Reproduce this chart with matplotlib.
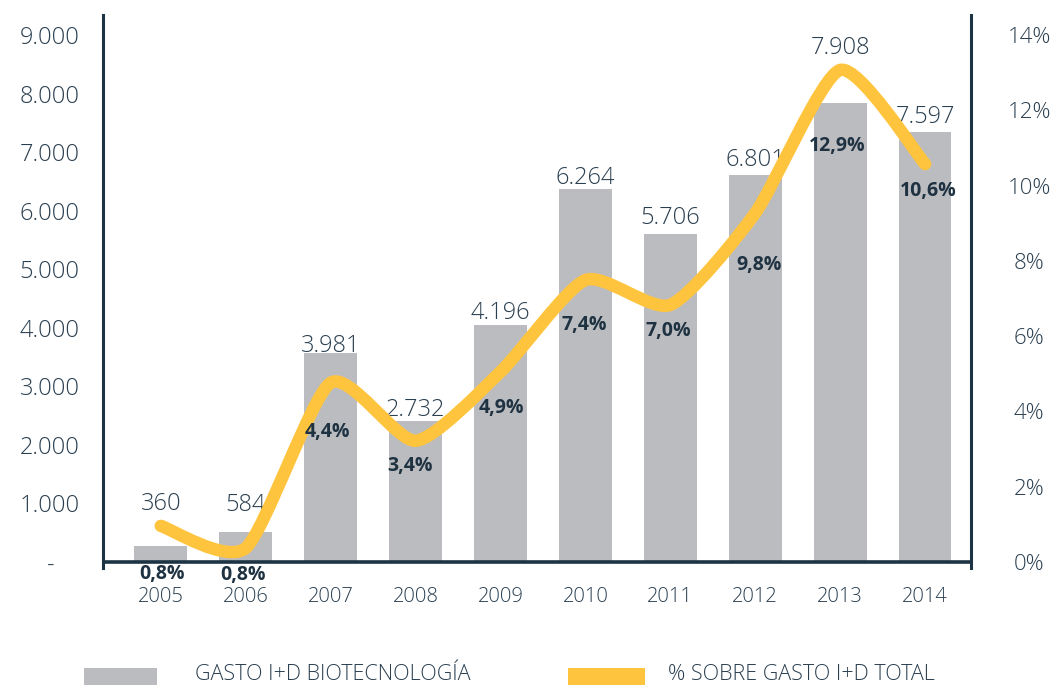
import matplotlib
matplotlib.use("Agg")
import matplotlib.pyplot as plt
from matplotlib.path import Path
from matplotlib.patches import PathPatch, Rectangle
import numpy as np

# ---- data ----
years = ["2005", "2006", "2007", "2008", "2009", "2010", "2011", "2012", "2013", "2014"]
gasto_bars = [275, 515, 3575, 2410, 4045, 6370, 5600, 6610, 7840, 7345]      # bar heights as drawn
gasto_labels = ["360", "584", "3.981", "2.732", "4.196", "6.264", "5.706", "6.801", "7.908", "7.597"]
pct_line = [0.96, 0.37, 4.76, 3.22, 5.05, 7.49, 6.83, 9.27, 13.07, 10.57]     # line as drawn (%)
pct_labels = ["0,8%", "0,8%", "4,4%", "3,4%", "4,9%", "7,4%", "7,0%", "9,8%", "12,9%", "10,6%"]
left_ticks = [0, 1000, 2000, 3000, 4000, 5000, 6000, 7000, 8000, 9000]
left_ticklabels = ["-    ", "1.000", "2.000", "3.000", "4.000", "5.000", "6.000", "7.000", "8.000", "9.000"]
right_ticks = [0, 2, 4, 6, 8, 10, 12, 14]
right_ticklabels = ["0%", "2%", "4%", "6%", "8%", "10%", "12%", "14%"]
legend_labels = ["GASTO I+D BIOTECNOLOGÍA", "% SOBRE GASTO I+D TOTAL"]

# ---- layout (pixels) ----
val_label_dy = [35.5, 21, 1, 4.5, 6.5, 4.5, 10.5, 8.5, 48.5, 8.5]
pct_label_dx = [1, -3, -3, -5, 1, -1, -2, 4, -3, 3]
pct_label_dy = [-53, -32, -54, -30, -41, -50, -31, -57, -81, -32]

NAVY = "#1D3444"
TEXT = "#2A3F50"
BOLD = "#1E3242"
YELLOW = "#FFC43D"
GRAY = "#BBBCC0"
FONT = "Open Sans"

plt.rcParams["font.family"] = [FONT, "DejaVu Sans"]

W, H = 1058, 686
fig = plt.figure(figsize=(W / 100, H / 100), dpi=100)
left_px, right_px, top_px, bot_px = 103, 971, 15, 568
ax = fig.add_axes([left_px / W, 1 - bot_px / H, (right_px - left_px) / W, (bot_px - top_px) / H])

x = np.arange(len(years))
ax.bar(x, gasto_bars, width=0.62, color=GRAY, zorder=2)
ax.set_xlim(-0.68, 9.54)
ax.set_ylim(-102, 9341)
ax.axhline(0, color=NAVY, lw=2.6, zorder=3)

for s in ["top", "bottom"]:
    ax.spines[s].set_visible(False)
ax.spines["left"].set_color(NAVY)
ax.spines["left"].set_linewidth(2.2)
ax.spines["right"].set_visible(False)

ax.set_yticks(left_ticks)
ax.set_yticklabels(left_ticklabels, fontsize=17, color=TEXT, fontweight="light")
ax.set_xticks(x)
ax.set_xticklabels(years, fontsize=14.5, color=TEXT, fontweight="light")
ax.tick_params(axis="y", length=0, pad=17)
ax.tick_params(axis="x", length=0, pad=14)

for i, (h, lab) in enumerate(zip(gasto_bars, gasto_labels)):
    ax.annotate(lab, (x[i], h), xytext=(0, val_label_dy[i]), textcoords="offset pixels",
                ha="center", va="baseline", fontsize=17, color=TEXT, fontweight="light", zorder=4)

ax2 = ax.twinx()
ax2.set_ylim(-0.159, 14.53)
for s in ["top", "bottom", "left"]:
    ax2.spines[s].set_visible(False)
ax2.spines["right"].set_color(NAVY)
ax2.spines["right"].set_linewidth(2.2)
ax2.set_yticks(right_ticks)
ax2.set_yticklabels(right_ticklabels, fontsize=16, color=TEXT, fontweight="light")
ax2.tick_params(axis="y", length=0, pad=42)
for t in ax2.get_yticklabels():
    t.set_horizontalalignment("center")

# smooth line through the points (tight Catmull-Rom as cubic Bezier)
TENSION = 1.0 / 9.0
P = np.column_stack([x.astype(float), np.array(pct_line, dtype=float)])
n = len(P)
verts = [tuple(P[0])]
codes = [Path.MOVETO]
for i in range(n - 1):
    p0 = P[i - 1] if i > 0 else P[i]
    p1 = P[i]
    p2 = P[i + 1]
    p3 = P[i + 2] if i + 2 < n else P[i + 1]
    c1 = p1 + (p2 - p0) * TENSION
    c2 = p2 - (p3 - p1) * TENSION
    verts += [tuple(c1), tuple(c2), tuple(p2)]
    codes += [Path.CURVE4] * 3
path = Path(verts, codes)
ax2.add_patch(PathPatch(path, facecolor="none", edgecolor=YELLOW, lw=9,
                        capstyle="round", joinstyle="round", zorder=5))

for i, lab in enumerate(pct_labels):
    ax2.annotate(lab, (x[i], pct_line[i]), xytext=(pct_label_dx[i], pct_label_dy[i]),
                 textcoords="offset pixels", ha="center", va="baseline",
                 fontsize=14, fontweight="bold", color=BOLD, zorder=6)

# legend
def px_rect(x0, y0, x1, y1, color):
    fig.add_artist(Rectangle((x0 / W, 1 - y1 / H), (x1 - x0) / W, (y1 - y0) / H,
                             transform=fig.transFigure, color=color, lw=0))

px_rect(84, 668, 157, 685, GRAY)
px_rect(568, 668, 645, 685, YELLOW)
fig.text(195 / W, 1 - 685 / H, legend_labels[0], fontsize=15.5, color=TEXT, va="bottom", ha="left",
         fontweight="light")
fig.text(668 / W, 1 - 685 / H, legend_labels[1], fontsize=15.5, color=TEXT, va="bottom", ha="left",
         fontweight="light")

fig.savefig("out.png", dpi=100)
